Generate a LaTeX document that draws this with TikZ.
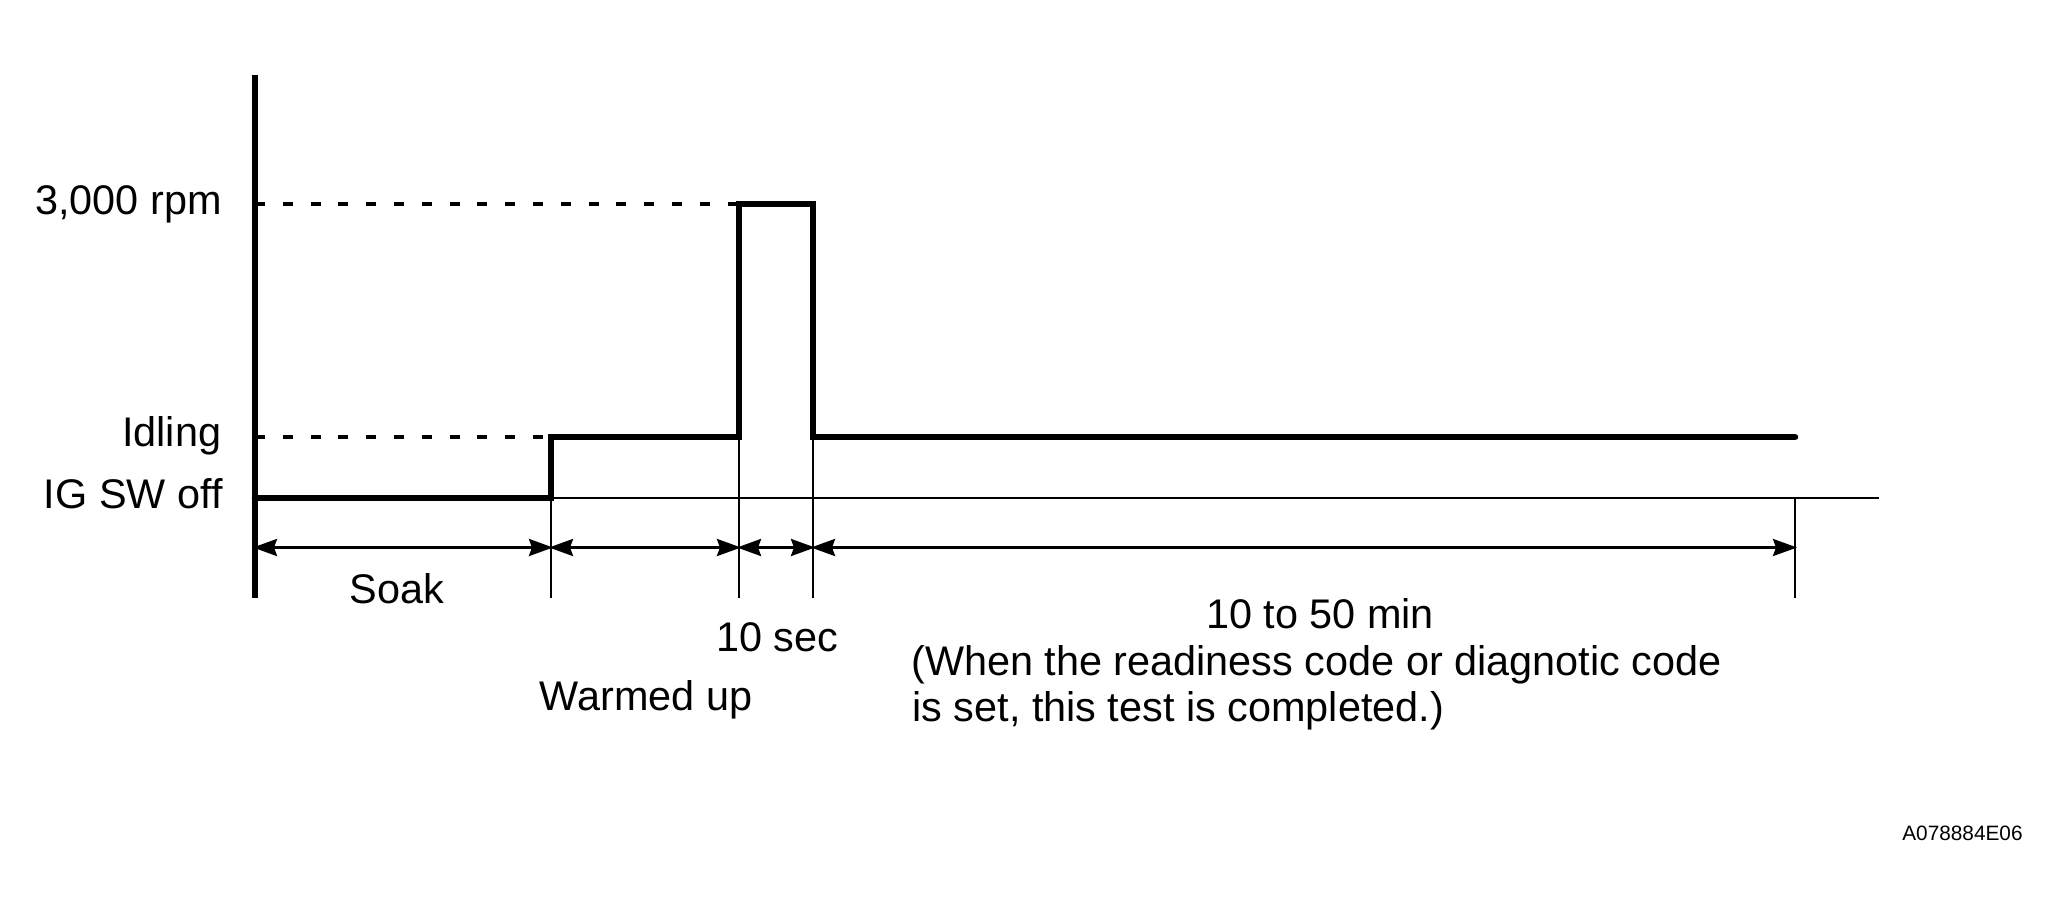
\documentclass[tikz,border=0pt]{standalone}
\usepackage{fontspec}
\setmainfont{Liberation Sans}
\usetikzlibrary{arrows.meta}
\begin{document}
\begin{tikzpicture}[x=0.5pt,y=-0.5pt,
  trace/.style={line width=3.3pt,line cap=round,line join=miter},
  axisline/.style={line width=2.8pt},
  thinline/.style={line width=1.45pt},
  dashline/.style={line width=1.6pt,dash pattern=on 5pt off 8.9pt},
  dimline/.style={line width=1.45pt,{Stealth[length=12pt,width=8.5pt,inset=1.5pt]}-{Stealth[length=12pt,width=8.5pt,inset=1.5pt]},shorten <=-1pt,shorten >=-1pt},
  lbl/.style={inner sep=0pt,font=\fontsize{20.7pt}{24pt}\selectfont},
  code/.style={inner sep=0pt,font=\fontsize{10.4pt}{12pt}\selectfont}]
\useasboundingbox (0,0) rectangle (2059,916);
% key coordinates
\coordinate (axtop) at (255,75);
\coordinate (axbot) at (255,598);
\coordinate (o) at (255,498);
\coordinate (s1) at (551,498);
\coordinate (s1up) at (551,437);
\coordinate (p1) at (739,437);
\coordinate (p1up) at (739,204);
\coordinate (p2up) at (813,204);
\coordinate (p2) at (813,437);
\coordinate (e) at (1795,437);
\coordinate (bend) at (1879,498);
\coordinate (ax3000) at (255,204);
\coordinate (axidle) at (255,437);
% tick points
\coordinate (t0) at (255,547.5);
\coordinate (t1) at (551,598);
\coordinate (t2) at (739,598);
\coordinate (t3) at (813,598);
\coordinate (t4b) at (1795,598);
\coordinate (t4t) at (1795,498);
\coordinate (a1) at (551,547.5);
\coordinate (a2) at (739,547.5);
\coordinate (a3) at (813,547.5);
\coordinate (a4) at (1795,547.5);
% thin baseline and ticks
\draw[thinline] (o) -- (bend);
\draw[thinline] (s1) -- (t1);
\draw[thinline] (p1) -- (t2);
\draw[thinline] (p2) -- (t3);
\draw[thinline] (t4t) -- (t4b);
% dashed levels
\draw[dashline] (ax3000) -- (p1up);
\draw[dashline] (axidle) -- (s1up);
% axis
\draw[axisline] (axtop) -- (axbot);
% trace
\draw[trace] (o) -- (s1) -- (s1up) -- (p1) -- (p1up) -- (p2up) -- (p2) -- (e);
% dimension arrows
\draw[dimline] (t0) -- (a1);
\draw[dimline] (a1) -- (a2);
\draw[dimline] (a2) -- (a3);
\draw[dimline] (a3) -- (a4);
% labels
\node[lbl,anchor=base east] (l3000) at (222,214) {3,000 rpm};
\node[lbl,anchor=base east] (lidle) at (221.5,446.7) {Idling};
\node[lbl,anchor=base east] (loff) at (223,508) {IG SW off};
\node[lbl,anchor=base] (lsoak) at (397,603.3) {Soak};
\node[lbl,anchor=base] (lsec) at (777,651.7) {10 sec};
\node[lbl,anchor=base] (lwarm) at (646,710) {Warmed up};
\node[lbl,anchor=base] (lmin) at (1320,628) {10 to 50 min};
\node[lbl,anchor=base west] (lnote1) at (911,675) {(When the readiness code or diagnotic code};
\node[lbl,anchor=base west] (lnote2) at (912,721) {is set, this test is completed.)};
\node[code,anchor=base east] (lcode) at (2023,840.7) {A078884E06};
\end{tikzpicture}
\end{document}
